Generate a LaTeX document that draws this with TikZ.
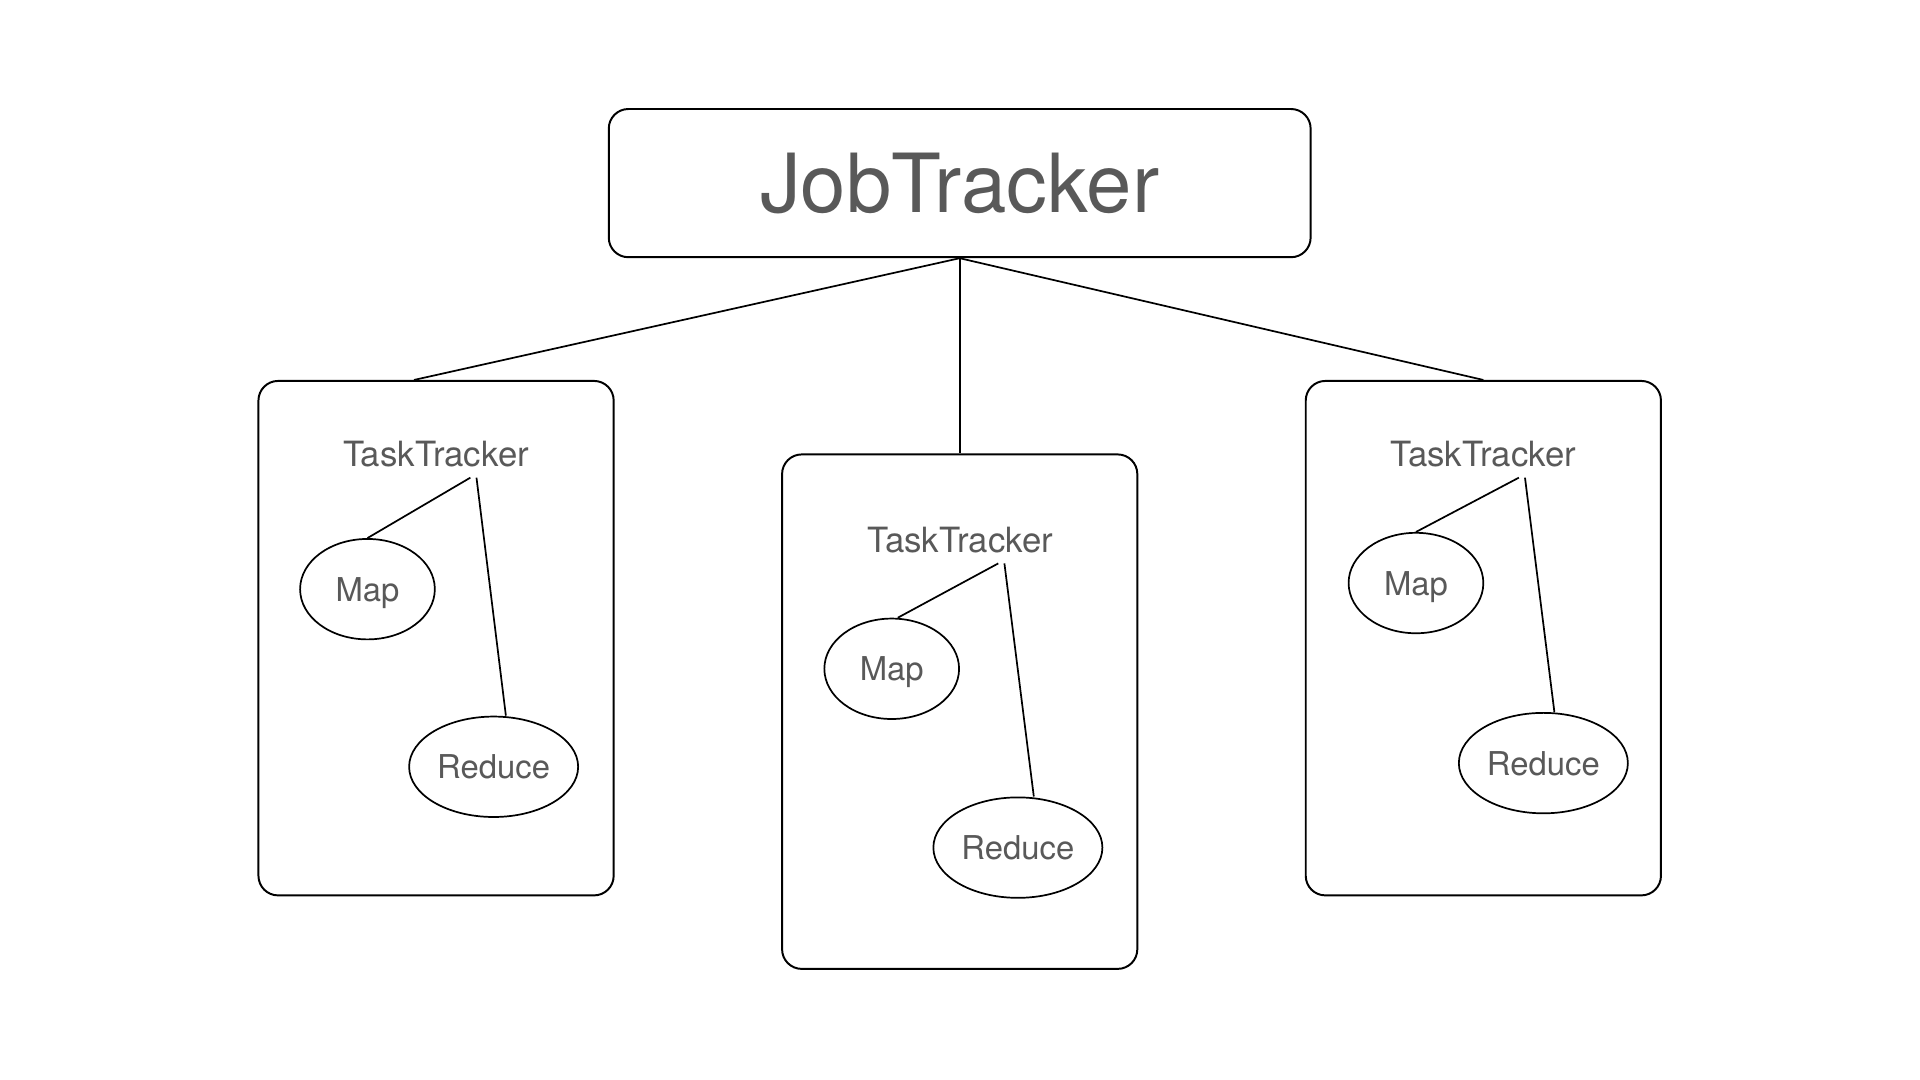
\documentclass[tikz,border=0pt]{standalone}
\usepackage{fontspec}
\setmainfont{TeX Gyre Heros}
\usetikzlibrary{shapes.geometric}
\definecolor{labelgray}{HTML}{595959}
\tikzset{
  jobbox/.style={draw, line width=0.8pt, rounded corners=8pt, minimum width=286.5pt, minimum height=60.5pt, text=labelgray, font=\fontsize{33.3}{40}\selectfont},
  taskbox/.style={draw, line width=0.8pt, rounded corners=8pt, minimum width=145pt, minimum height=210pt},
  tasklabel/.style={text=labelgray, font=\fontsize{14.2}{17}\selectfont, inner sep=1pt},
  worker/.style={draw, ellipse, line width=0.7pt, inner sep=0pt, minimum height=41pt, text depth=0pt, text=labelgray, font=\fontsize{13.4}{16}\selectfont},
  link/.style={line width=0.7pt}
}

\begin{document}
\begin{tikzpicture}[x=0.5pt, y=-0.5pt]
    \useasboundingbox (0,0) rectangle (1567.5,881.7);
    % job tracker
    \node[jobbox] (job) at (783.5,149.5) {JobTracker};
    % task tracker boxes
    \node[taskbox] (boxL) at (356,521) {};
    \node[taskbox] (boxM) at (783.5,581) {};
    \node[taskbox] (boxR) at (1211,521) {};
    \draw[link] (job.south) -- ([xshift=-9pt]boxL.north);
    \draw[link] (job.south) -- (boxM.north);
    \draw[link] (job.south) -- (boxR.north);
    % left
    \node[tasklabel] (ttL) at (356,371) {TaskTracker};
    \node[worker, minimum width=55pt] (mapL) at (300,481) {Map};
    \node[worker, minimum width=69pt] (redL) at (403,626) {Reduce};
    \draw[link] ([xshift=14pt,yshift=-3pt]ttL.south) -- (mapL.north);
    \draw[link] ([xshift=16.5pt,yshift=-3pt]ttL.south) -- ([xshift=5pt]redL.north);
    % middle
    \node[tasklabel] (ttM) at (784,441) {TaskTracker};
    \node[worker, minimum width=55pt] (mapM) at (728,546) {Map};
    \node[worker, minimum width=69pt] (redM) at (831,692) {Reduce};
    \draw[link] ([xshift=15.5pt,yshift=-3pt]ttM.south) -- ([xshift=2.5pt]mapM.north);
    \draw[link] ([xshift=18pt,yshift=-3pt]ttM.south) -- ([xshift=6.5pt]redM.north);
    % right
    \node[tasklabel] (ttR) at (1211,371) {TaskTracker};
    \node[worker, minimum width=55pt] (mapR) at (1156,476) {Map};
    \node[worker, minimum width=69pt] (redR) at (1260,623) {Reduce};
    \draw[link] ([xshift=14.5pt,yshift=-3pt]ttR.south) -- (mapR.north);
    \draw[link] ([xshift=17pt,yshift=-3pt]ttR.south) -- ([xshift=4.5pt]redR.north);
\end{tikzpicture}
\end{document}
